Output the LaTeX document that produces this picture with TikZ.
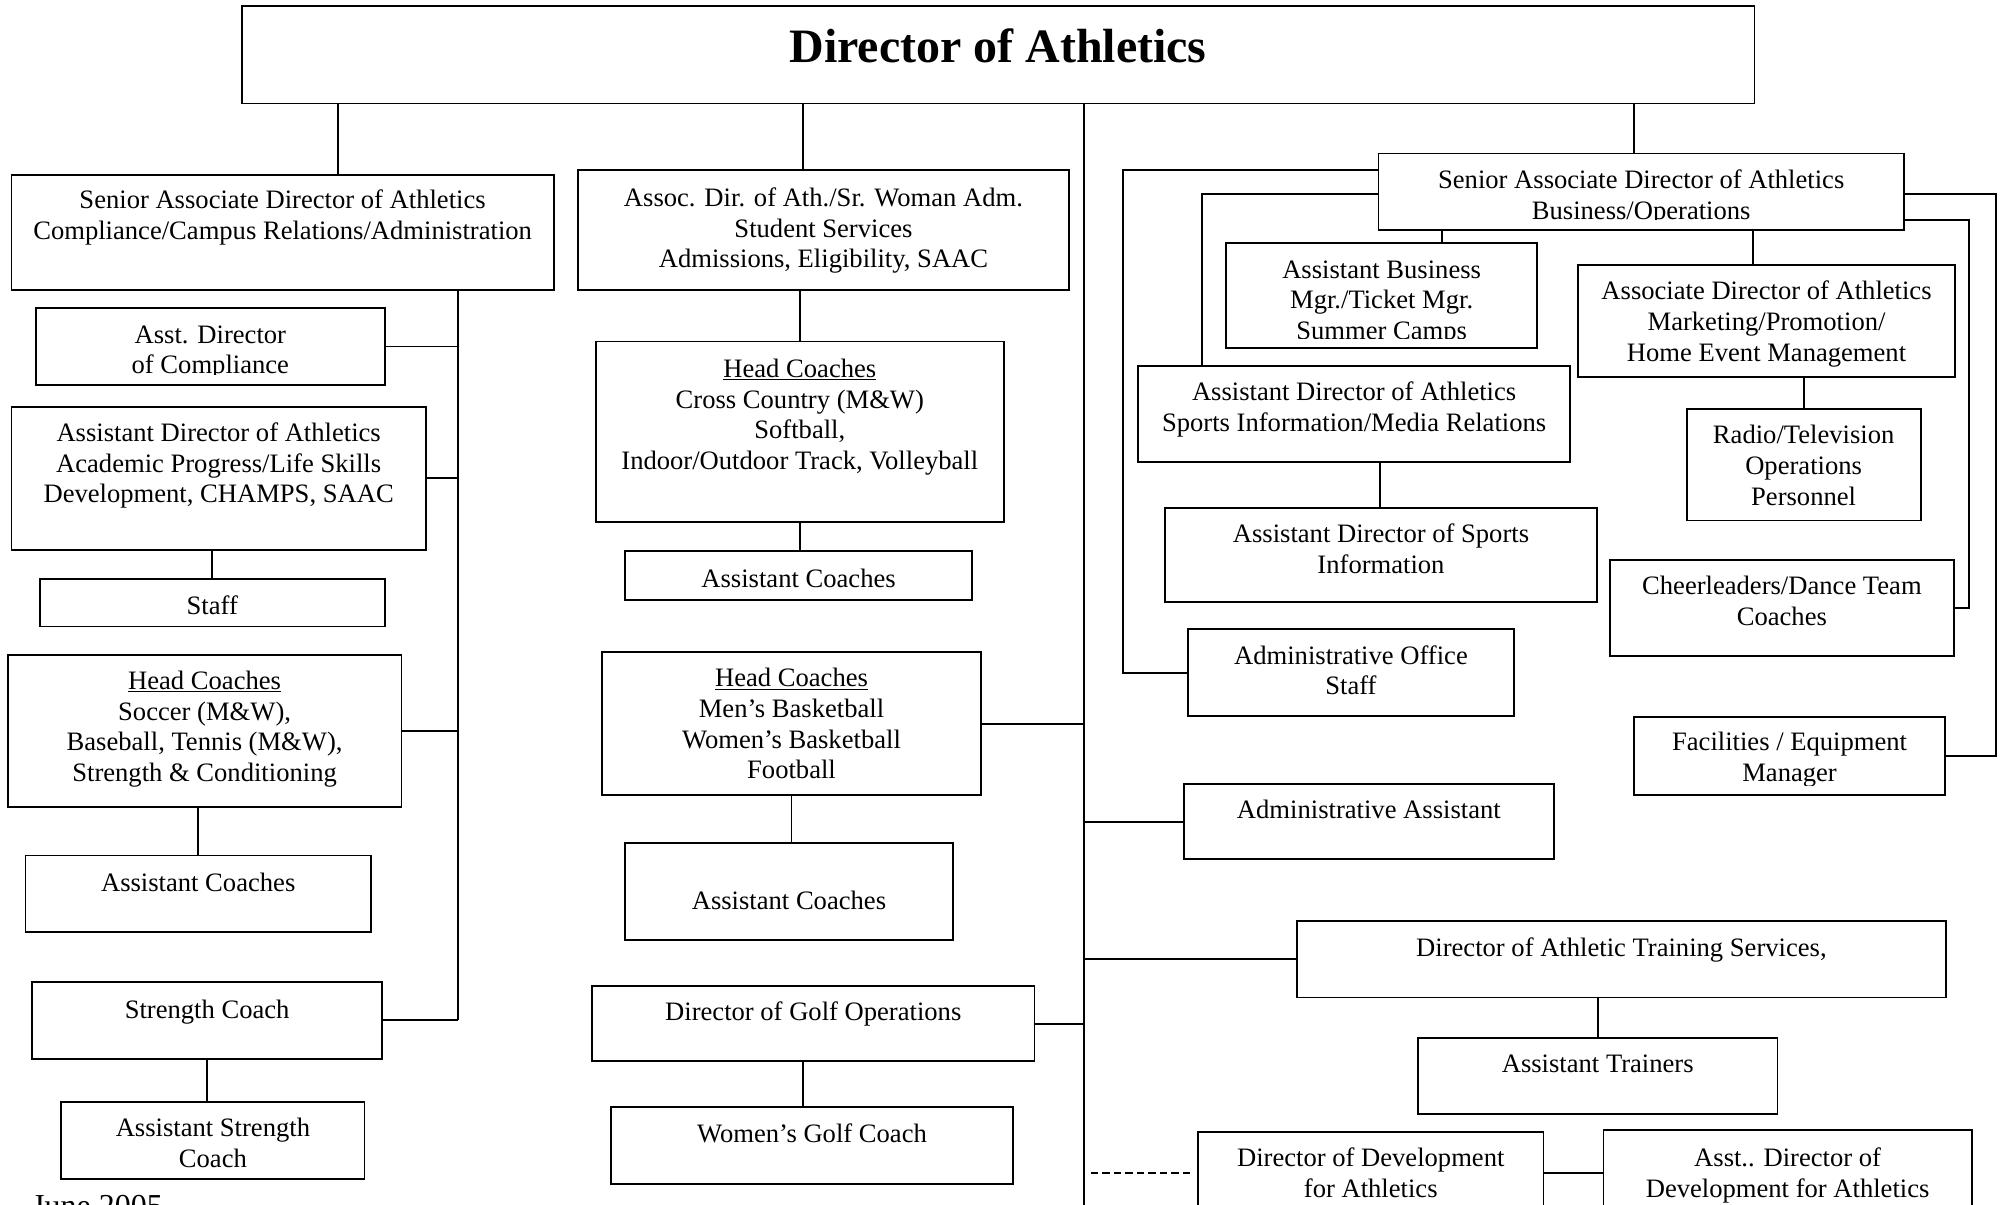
\documentclass[tikz,border=0pt]{standalone}
\usepackage{fontspec}
\setmainfont{Liberation Serif}
\tikzset{
  box/.style={draw, line width=1.4pt, rectangle, inner sep=0pt},
  txt/.style={align=center, inner sep=0pt, anchor=north, font=\fontsize{20.8}{24}\selectfont},
  conn/.style={line width=1.5pt},
}
% #1 name, #2 x1, #3 y1, #4 x2, #5 y2, #6 first baseline, #7 text
\newcommand\obox[7]{%
  \node[box, minimum width={#4-#2}, minimum height={#5-#3}] (#1) at ({(#2+#4)/2},{(#3+#5)/2}) {};
  \node[txt] (#1t) at ({(#2+#4)/2},{#6-14.5}) {#7};}
% same, text clipped at y = #8
\newcommand\cbox[8]{%
  \node[box, minimum width={#4-#2}, minimum height={#5-#3}] (#1) at ({(#2+#4)/2},{(#3+#5)/2}) {};
  \begin{scope}
    \clip (#2,#3) rectangle (#4,#8);
    \node[txt] (#1t) at ({(#2+#4)/2},{#6-14.5}) {#7};
  \end{scope}}
\begin{document}
\begin{tikzpicture}[x=1pt,y=-1pt]
\path[fill=white, use as bounding box] (0,0) rectangle (1568,942);

% title
\node[box, minimum width=1183, minimum height=76] (title) at (780.5,43) {};
\node[anchor=base, inner sep=0pt, font=\fontsize{37.5}{42}\selectfont\bfseries] (titlet) at (780.5,49) {Director of Athletics};

% left column
\obox{sadc}{9}{137}{433}{227}{163}{Senior Associate Director of Athletics\\Compliance/Campus Relations/Administration}
\cbox{asstcomp}{28}{241}{301}{301}{269}{Asst. Director\\of Compliance}{293}
\obox{acad}{9}{318}{333}{430}{345}{Assistant Director of Athletics\\Academic Progress/Life Skills\\Development, CHAMPS, SAAC}
\obox{staff}{31}{453}{301}{490}{480}{Staff}
\obox{hcl}{6}{512}{314}{631}{539}{\underline{Head Coaches}\\Soccer (M\&W),\\Baseball, Tennis (M\&W),\\Strength \& Conditioning}
\obox{acl}{20}{669}{290}{729}{697}{Assistant Coaches}
\obox{strength}{25}{768}{299}{828}{796}{Strength Coach}
\obox{astr}{48}{862}{285}{922}{889}{Assistant Strength\\Coach}
\node[anchor=base west, inner sep=0pt, font=\fontsize{25}{28}\selectfont] (june) at (25,951) {June 2005};

% middle column
\obox{assoc}{452}{133}{836}{227}{161}{Assoc. Dir. of Ath./Sr. Woman Adm.\\Student Services\\Admissions, Eligibility, SAAC}
\obox{hcm1}{466}{267}{785}{408}{295}{\underline{Head Coaches}\\Cross Country (M\&W)\\Softball,\\Indoor/Outdoor Track, Volleyball}
\obox{acm1}{489}{431}{760}{469}{459}{Assistant Coaches}
\obox{hcm2}{471}{510}{767}{622}{537}{\underline{Head Coaches}\\Men’s Basketball\\Women’s Basketball\\Football}
\obox{acm2}{489}{659}{745}{735}{711}{Assistant Coaches}
\obox{golf}{463}{771}{809}{830}{798}{Director of Golf Operations}
\obox{wgolf}{478}{866}{792}{926}{893}{Women’s Golf Coach}

% right part
\cbox{sadb}{1078}{120}{1489}{180}{147}{Senior Associate Director of Athletics\\Business/Operations}{172}
\cbox{abm}{959}{190}{1202}{272}{218}{Assistant Business\\Mgr./Ticket Mgr.\\Summer Camps}{265}
\obox{mkt}{1234}{207}{1529}{295}{234}{Associate Director of Athletics\\Marketing/Promotion/\\Home Event Management}
\obox{radio}{1319}{320}{1502}{407}{347}{Radio/Television\\Operations\\Personnel}
\obox{sim}{890}{286}{1228}{361}{313}{Assistant Director of Athletics\\Sports Information/Media Relations}
\obox{asi}{911}{397}{1249}{471}{424}{Assistant Director of Sports\\Information}
\obox{cheer}{1259}{438}{1528}{513}{465}{Cheerleaders/Dance Team\\Coaches}
\cbox{fac}{1278}{561}{1521}{622}{587}{Facilities / Equipment\\Manager}{614}
\obox{aos}{929}{492}{1184}{560}{519}{Administrative Office\\Staff}
\obox{aa}{926}{613}{1215}{672}{640}{Administrative Assistant}
\obox{dats}{1014}{720}{1522}{780}{748}{Director of Athletic Training Services,}
\obox{at}{1109}{812}{1390}{871}{839}{Assistant Trainers}
\obox{dev}{937}{885}{1207}{965}{912}{Director of Development\\for Athletics}
\obox{adev}{1254}{884}{1542}{965}{912}{Asst.. Director of\\Development for Athletics}

% coordinates for connector positions
\coordinate (xL1) at (264,0);
\coordinate (xM1) at (628,0);
\coordinate (xR1) at (1278,0);
\coordinate (busBot) at (848,950);
\coordinate (busL) at (358,798);
\coordinate (xG) at (628,0);
\coordinate (xABM) at (1128,0);
\coordinate (xMKT) at (1371,0);
\coordinate (xSI) at (1079,0);
\coordinate (brO) at (878,133);
\coordinate (brI) at (940,152);
\coordinate (brR1) at (1540,172);
\coordinate (brR2) at (1561,152);
\coordinate (yDev) at (0,917);

% from the director
\draw[conn] (title.south -| xL1) -- (sadc.north -| xL1);
\draw[conn] (title.south -| xM1) -- (assoc.north -| xM1);
\draw[conn] (title.south -| xR1) -- (sadb.north -| xR1);
\draw[conn] (title.south -| busBot) -- (busBot);

% left bus
\draw[conn] (sadc.south -| busL) -- (busL);
\draw[conn] (asstcomp.east) -- (asstcomp.east -| busL);
\draw[conn] (acad.east) -- (acad.east -| busL);
\draw[conn] (hcl.east) -- (hcl.east -| busL);
\draw[conn] (strength.east) -- (strength.east -| busL);
\draw[conn] (acad.south -| staff.north) -- (staff.north);
\draw[conn] (hcl.south -| acl.north) -- (acl.north);
\draw[conn] (strength.south) -- (strength.south |- astr.north);

% middle
\draw[conn] (assoc.south -| hcm1.north) -- (hcm1.north);
\draw[conn] (hcm1.south) -- (hcm1.south |- acm1.north);
\draw[conn] (hcm2.south) -- (hcm2.south |- acm2.north);
\draw[conn] (hcm2.east) -- (hcm2.east -| busBot);
\draw[conn] (golf.east) -- (golf.east -| busBot);
\draw[conn] (golf.south -| xG) -- (wgolf.north -| xG);

% right
\draw[conn] (sadb.south -| xABM) -- (abm.north -| xABM);
\draw[conn] (sadb.south -| xMKT) -- (mkt.north -| xMKT);
\draw[conn] (mkt.south -| radio.north) -- (radio.north);
\draw[conn] (sim.south -| xSI) -- (asi.north -| xSI);
\draw[conn] (sadb.west |- brO) -- (brO) |- (aos.west);
\draw[conn] (sadb.west |- brI) -- (brI) -- (brI |- sim.north);
\draw[conn] (sadb.east |- brR1) -- (brR1) |- (cheer.east);
\draw[conn] (sadb.east |- brR2) -- (brR2) |- (fac.east);
\draw[conn] (aa.west) -- (aa.west -| busBot);
\draw[conn] (dats.west) -- (dats.west -| busBot);
\draw[conn] (dats.south -| at.north) -- (at.north);
\draw[conn, dash pattern=on 6pt off 3pt] ([xshift=5pt]busBot |- yDev) -- ([xshift=-5pt]dev.west |- yDev);
\draw[conn] (dev.east |- yDev) -- (adev.west |- yDev);
\end{tikzpicture}
\end{document}
